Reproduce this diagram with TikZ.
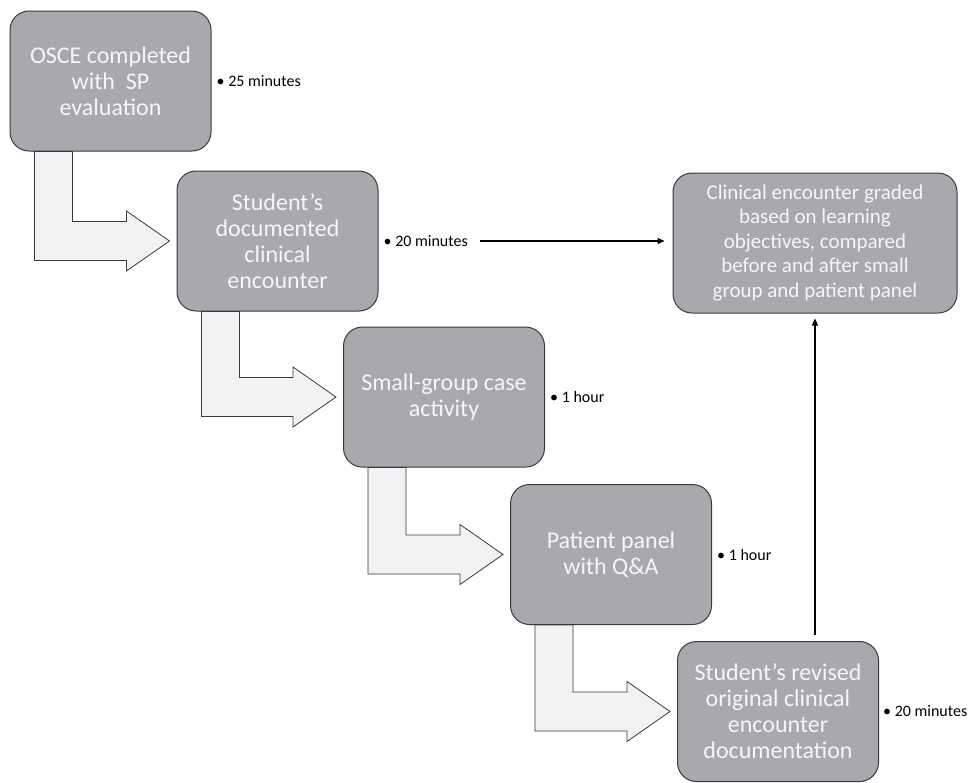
\documentclass[tikz,border=0pt]{standalone}
\usepackage{fontspec}
\setmainfont{Carlito}
\usetikzlibrary{positioning,arrows.meta}

\definecolor{boxgray}{HTML}{A7A9AC}
\definecolor{boxline}{HTML}{3A3A3A}
\definecolor{boxtext}{HTML}{F6F6F6}
\definecolor{arrowfill}{HTML}{F1F2F3}

\tikzset{
  stepbox/.style={draw=boxline, fill=boxgray, rounded corners=19pt, line width=1pt,
    text=boxtext, align=center, minimum width=201pt, minimum height=140pt,
    font=\fontsize{24}{26}\selectfont},
  timelabel/.style={inner sep=0pt, font=\fontsize{16}{19}\selectfont},
  bentarrow/.style={draw=boxline, fill=arrowfill, line width=0.8pt},
  link/.style={line width=1.2pt, -{Triangle[length=7pt,width=6pt]}}
}

\begin{document}
\begin{tikzpicture}[x=1pt, y=-1pt]
    \useasboundingbox (0,0) rectangle (972,782);
    % steps
    \node[stepbox] (osce) at (110.5,81) {OSCE completed\\with\ \ SP\\evaluation};
    \node[stepbox] (doc) at (277.5,241) {Student’s\\documented\\clinical\\encounter};
    \node[stepbox] (group) at (444,397) {Small-group case\\activity};
    \node[stepbox] (panel) at (611,554.5) {Patient panel\\with Q\&A};
    \node[stepbox] (revised) at (778,711.5) {Student’s revised\\original clinical\\encounter\\documentation};
    \node[stepbox, minimum width=284pt, font=\fontsize{21}{24.5}\selectfont] (grade) at (815,243)
      {Clinical encounter graded\\based on learning\\objectives, compared\\before and after small\\group and patient panel};
    % times
    \node[timelabel, right=5pt of osce] (t1) {\textbullet\ 25 minutes};
    \node[timelabel, right=5pt of doc] (t2) {\textbullet\ 20 minutes};
    \node[timelabel, right=5pt of group] (t3) {\textbullet\ 1 hour};
    \node[timelabel, right=5pt of panel] (t4) {\textbullet\ 1 hour};
    \node[timelabel, right=4pt of revised] (t5) {\textbullet\ 20 minutes};
    % bent arrows between steps
    \foreach \a/\b in {osce/doc, doc/group, group/panel, panel/revised}
      \draw[bentarrow] ([xshift=25pt]\a.south west) |- ([xshift=-50pt,yshift=-19.5pt]\b.west)
        -- ([xshift=-50pt,yshift=-30pt]\b.west) -- ([xshift=-7pt]\b.west)
        -- ([xshift=-50pt,yshift=30pt]\b.west) -- ([xshift=-50pt,yshift=19.5pt]\b.west)
        -| ([xshift=63pt]\a.south west) -- cycle;
    % links to grading
    \draw[link, shorten >=8pt] ([xshift=12pt]t2.east) -- (t2.east -| grade.west);
    \draw[link, shorten <=6pt, shorten >=5pt] (grade.south |- revised.north) -- (grade.south);
\end{tikzpicture}
\end{document}
